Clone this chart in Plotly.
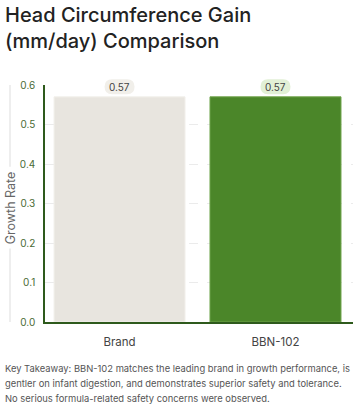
import plotly.graph_objects as go

categories = ["Brand", "BBN-102"]
values = [0.57, 0.57]
label_texts = ["0.57", "0.57"]
bar_colors = ["#e8e5df", "#4b8629"]
bar_edge = ["#f2f0eb", "#6ea34a"]
pill_colors = ["#f1efea", "#e2f0d6"]
y_ticks = [0.0, 0.1, 0.2, 0.3, 0.4, 0.5, 0.6]
y_tick_labels = ["0.0", "0.1", "0.2", "0.3", "0.4", "0.5", "0.6"]
footer_lines = [
    "Key Takeaway: BBN-102 matches the leading brand in growth performance, is",
    "gentler on infant digestion, and demonstrates superior safety and tolerance.",
    "No serious formula-related safety concerns were observed.",
]

FONT = "Inter, 'Open Sans', sans-serif"
X_RANGE = [-0.478, 1.497]
Y_RANGE = [0, 0.6]

fig = go.Figure()
fig.add_trace(go.Bar(
    x=list(range(len(categories))), y=values, width=0.84,
    marker=dict(color=bar_colors, line=dict(color=bar_edge, width=1)),
    hoverinfo="skip",
))

OFF = 10
for i, (v, t) in enumerate(zip(values, label_texts)):
    w, h, r = 15, 7.5, 7.5
    y0, y1 = OFF - h, OFF + h
    path = (f"M {-w+r},{y0} L {w-r},{y0} Q {w},{y0} {w},{y0+r} "
            f"L {w},{y1-r} Q {w},{y1} {w-r},{y1} L {-w+r},{y1} "
            f"Q {-w},{y1} {-w},{y1-r} L {-w},{y0+r} Q {-w},{y0} {-w+r},{y0} Z")
    px = (i - X_RANGE[0]) / (X_RANGE[1] - X_RANGE[0])
    py = (v - Y_RANGE[0]) / (Y_RANGE[1] - Y_RANGE[0])
    fig.add_shape(type="path", xref="paper", yref="paper",
                  xsizemode="pixel", ysizemode="pixel",
                  xanchor=px, yanchor=py, path=path,
                  fillcolor=pill_colors[i], line=dict(width=0), layer="above")
    fig.add_annotation(x=i, y=v, text=t, showarrow=False, yshift=OFF,
                       font=dict(family=FONT, size=10, color="#444444"))

anns = list(fig.layout.annotations)
anns.append(dict(text="Head Circumference Gain<br>(mm/day) Comparison",
                 xref="paper", yref="paper", x=-0.135, y=1.0, yshift=84,
                 xanchor="left", yanchor="top", align="left", showarrow=False,
                 font=dict(family=FONT, size=20, color="#222222", weight=500)))
anns.append(dict(text="Growth Rate", xref="paper", yref="paper", x=-0.1136,
                 y=0.48, textangle=-90, showarrow=False, xanchor="center",
                 font=dict(family=FONT, size=12.5, color="#666666")))
for k, line in enumerate(footer_lines):
    anns.append(dict(text=line, xref="paper", yref="paper", x=-0.135, y=0,
                     yshift=-46 - 15 * k, xanchor="left", yanchor="middle",
                     align="left", showarrow=False,
                     font=dict(family=FONT, size=9.4, color="#555555")))

fig.update_layout(
    width=354, height=406,
    margin=dict(l=45, r=1, t=85, b=84),
    paper_bgcolor="white", plot_bgcolor="white",
    showlegend=False,
    font=dict(family=FONT, color="#333333"),
    xaxis=dict(range=X_RANGE, tickvals=list(range(len(categories))),
               ticktext=categories,
               showgrid=False, showline=True, linecolor="#2e5a1c", linewidth=1.5,
               ticks="", tickfont=dict(family=FONT, size=11.5, color="#444444"),
               ticklabelstandoff=8, zeroline=False),
    yaxis=dict(range=Y_RANGE, tickvals=y_ticks, ticktext=y_tick_labels,
               showgrid=True, gridcolor="#ebebeb", griddash="dash", gridwidth=1,
               showline=True, linecolor="#2e5a1c", linewidth=1.5,
               zeroline=False, ticks="",
               tickfont=dict(family=FONT, size=10, color="#4a6b35"),
               ticklabelstandoff=6),
    annotations=anns,
)

for (a, b) in [(0.0, 0.31), (0.655, 1.0)]:
    fig.add_shape(type="line", xref="paper", yref="paper", x0=-0.1136, x1=-0.1136,
                  y0=a, y1=b, line=dict(color="#dddddd", width=1), layer="below")

fig.write_html("out.html")
